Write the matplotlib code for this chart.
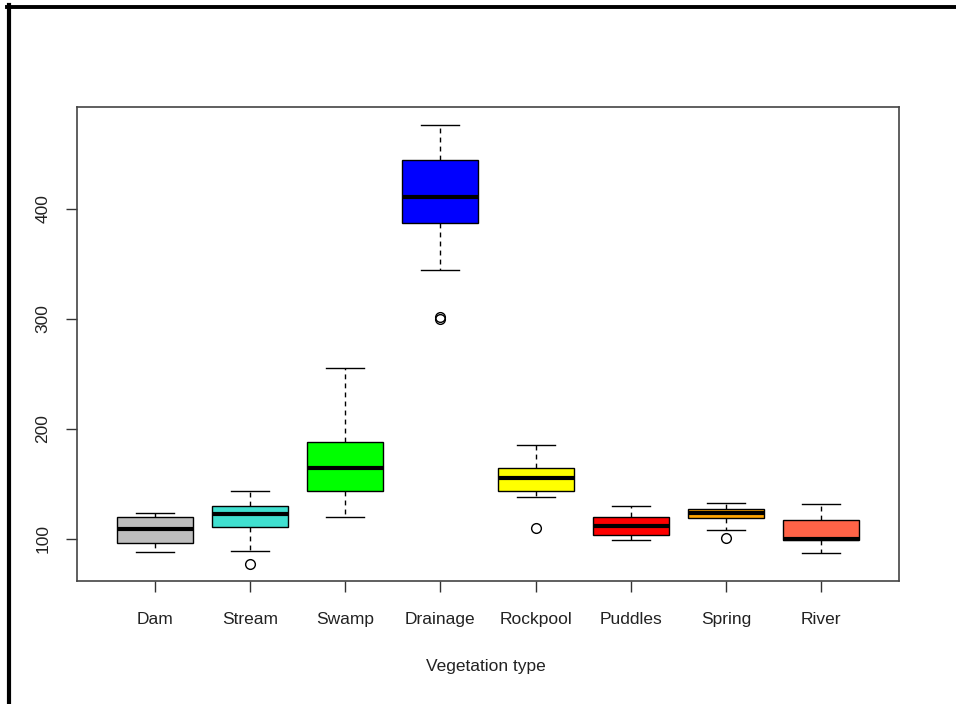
import matplotlib

matplotlib.use("Agg")
import matplotlib.pyplot as plt
from matplotlib.lines import Line2D

plt.rcParams["font.family"] = ["Liberation Sans", "DejaVu Sans"]

# boxplot statistics
groups = ["Dam", "Stream", "Swamp", "Drainage", "Rockpool", "Puddles", "Spring", "River"]
colors = ["#BEBEBE", "#40E0D0", "#00FF00", "#0000FF", "#FFFF00", "#FF0000", "#FFA500", "#FF6347"]
whislo = [88.5, 89.0, 120.3, 344.5, 138.5, 99.0, 108.5, 87.5]
q1 = [96.7, 110.6, 144.0, 387.6, 143.6, 103.6, 119.0, 99.0]
med = [109.4, 122.7, 164.5, 411.2, 155.2, 111.8, 123.3, 100.3]
q3 = [119.7, 130.0, 188.5, 444.5, 164.2, 120.3, 127.3, 117.3]
whishi = [123.9, 143.4, 255.5, 476.4, 185.8, 129.7, 133.0, 131.8]
fliers = [[], [77.6], [], [300.0, 301.5], [109.7], [], [100.6], []]

yticks = [100, 200, 300, 400]
xlabel = "Vegetation type"

W, H = 956, 704
fig = plt.figure(figsize=(W / 100, H / 100), dpi=100)
ax = fig.add_axes([77 / W, 1 - 581 / H, (899 - 77) / W, (581 - 107) / H])

stats = []
for i, name in enumerate(groups):
    stats.append(dict(label=name, whislo=whislo[i], q1=q1[i], med=med[i],
                      q3=q3[i], whishi=whishi[i], fliers=fliers[i]))

bp = ax.bxp(
    stats,
    positions=range(1, len(groups) + 1),
    widths=0.8,
    patch_artist=True,
    showfliers=True,
    boxprops=dict(edgecolor="black", linewidth=1.0),
    medianprops=dict(color="black", linewidth=3.0, solid_capstyle="butt"),
    whiskerprops=dict(color="black", linewidth=1.0, linestyle=(0, (3.5, 3))),
    capprops=dict(color="black", linewidth=1.0),
    flierprops=dict(marker="o", markersize=7, markerfacecolor="none",
                    markeredgecolor="black", markeredgewidth=1.0),
    capwidths=0.4,
)
for patch, c in zip(bp["boxes"], colors):
    patch.set_facecolor(c)

ax.set_xlim(0.18, 8.82)
ax.set_ylim(61.8, 492.7)
ax.set_yticks(yticks)
ax.set_yticklabels([str(v) for v in yticks], rotation=90, va="center")
ax.set_xticks(range(1, len(groups) + 1))
ax.set_xticklabels(groups)
ax.tick_params(axis="both", direction="out", length=8, width=1.0, labelsize=12.5,
               colors="#333333", labelcolor="#222222")
ax.tick_params(axis="y", pad=11)
ax.tick_params(axis="x", pad=14.5)
for sp in ax.spines.values():
    sp.set_color("#444444")
    sp.set_linewidth(1.2)

fig.text(486 / W, 1 - 666 / H, xlabel, ha="center", va="center", fontsize=12.5, color="#222222")

# outer frame (left and top edges of the screenshot)
fig.add_artist(Line2D([8.5 / W, 8.5 / W], [0, 1 - 5 / H], color="black", linewidth=3.0,
                      transform=fig.transFigure))
fig.add_artist(Line2D([7 / W, 1], [1 - 6.5 / H, 1 - 6.5 / H], color="black", linewidth=2.8,
                      transform=fig.transFigure))

fig.savefig("out.png", dpi=100)
